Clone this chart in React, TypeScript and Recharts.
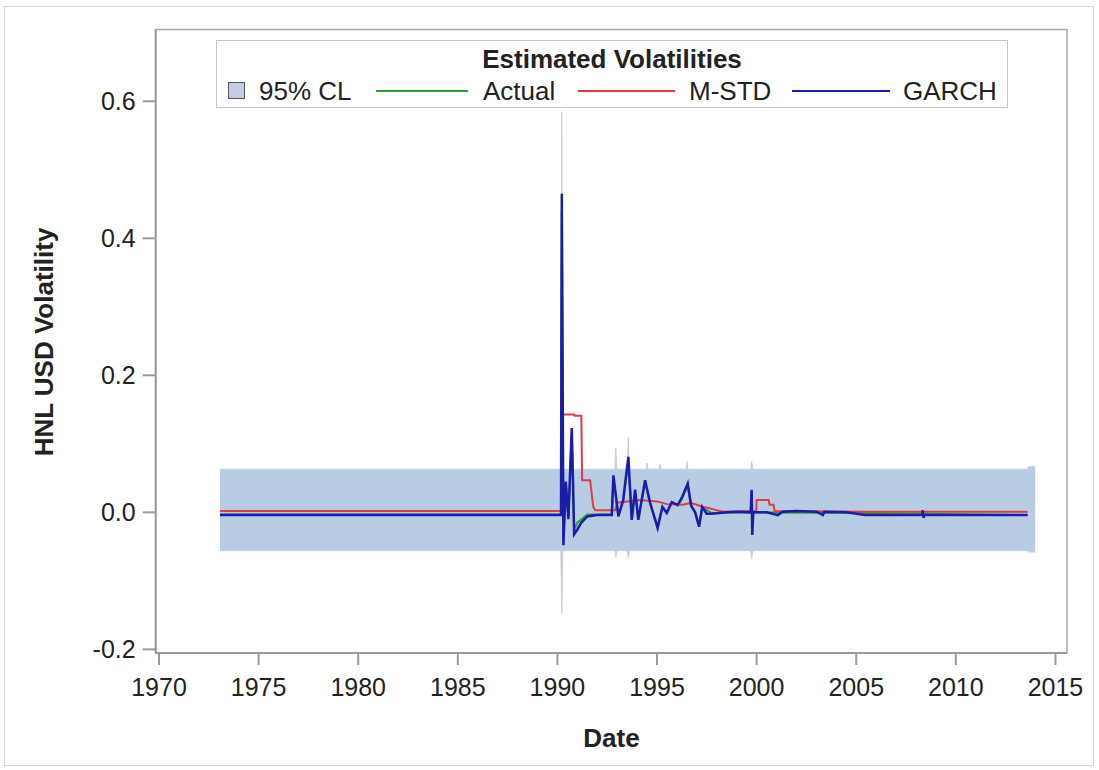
import React from "react";
import {
  Area,
  ComposedChart,
  Legend,
  Line,
  ReferenceArea,
  XAxis,
  YAxis,
} from "recharts";

const FONT = '"Liberation Sans", Arial, sans-serif';

// axis ticks
const xTicks = [1970, 1975, 1980, 1985, 1990, 1995, 2000, 2005, 2010, 2015];
const yTicks = [-0.2, 0, 0.2, 0.4, 0.6];
const X_MIN = 1969.834;
const X_MAX = 2015.58;
const Y_MIN = -0.2053;
const Y_MAX = 0.7048;

// 95% confidence band
const clYears = [
  1973.06, 1990.17, 1990.22, 1990.27, 1992.88, 1992.93, 1992.98, 1993.51, 1993.56,
  1993.61, 1994.45, 1994.5, 1994.55, 1995.1, 1995.15, 1995.2, 1996.45, 1996.5,
  1996.55, 1999.7, 1999.75, 1999.8, 2013.6, 2013.64, 2013.98,
];
const clUpper = [
  0.063, 0.063, 0.585, 0.063, 0.063, 0.094, 0.063, 0.063, 0.11, 0.063, 0.063, 0.072,
  0.063, 0.063, 0.07, 0.063, 0.063, 0.075, 0.063, 0.063, 0.075, 0.063, 0.063, 0.067,
  0.067,
];
const clLower = [
  -0.056, -0.056, -0.148, -0.056, -0.056, -0.066, -0.056, -0.056, -0.067, -0.056,
  -0.056, -0.056, -0.056, -0.056, -0.056, -0.056, -0.056, -0.056, -0.056, -0.056,
  -0.068, -0.056, -0.056, -0.058, -0.058,
];

// Actual volatility (mostly hidden under GARCH)
const actualYears = [
  1973.06, 1990.18, 1990.22, 1990.3, 1990.42, 1990.55, 1990.72, 1990.84, 1991.0,
  1991.5, 1992.73, 1992.81, 1993.06, 1993.3, 1993.56, 1993.73, 1993.9, 1994.06, 1994.4,
  1994.65, 1995.03, 1995.27, 1995.49, 1995.74, 1996.04, 1996.24, 1996.54, 1996.71,
  1996.91, 1997.11, 1997.27, 1997.75, 1999.7, 1999.75, 1999.78, 1999.83, 2005.44,
  2013.6,
];
const actualVals = [
  -0.003, -0.003, 0.44, -0.04, 0.04, -0.008, 0.115, -0.025, -0.015, -0.003, -0.003,
  0.05, -0.004, 0.016, 0.075, -0.009, 0.03, -0.009, 0.043, 0.013, -0.02, 0.007, 0.0,
  0.014, 0.01, 0.019, 0.039, 0.009, 0.001, -0.018, 0.007, -0.001, 0.0, 0.03, -0.03, 0.0,
  -0.001, -0.004,
];

// moving standard deviation
const mstdYears = [
  1973.06, 1990.18, 1990.21, 1990.84, 1990.86, 1991.2, 1991.24, 1991.64, 1991.8,
  1991.9, 1992.9, 1993.0, 1993.5, 1994.1, 1995.0, 1995.5, 1996.3, 1996.7, 1997.2,
  1997.9, 1998.3, 1999.98, 2000.0, 2000.6, 2000.65, 2000.85, 2000.9, 2005.4, 2013.6,
];
const mstdVals = [
  0.002, 0.002, 0.143, 0.143, 0.141, 0.141, 0.047, 0.047, 0.008, 0.003, 0.003, 0.014,
  0.016, 0.018, 0.016, 0.012, 0.011, 0.014, 0.009, 0.004, 0.001, 0.002, 0.018, 0.018,
  0.011, 0.011, 0.002, 0.001, 0.001,
];

// GARCH volatility
const garchYears = [
  1973.06, 1990.18, 1990.22, 1990.3, 1990.42, 1990.55, 1990.72, 1990.84, 1991.0,
  1991.2, 1991.5, 1992.0, 1992.73, 1992.81, 1993.06, 1993.3, 1993.56, 1993.73, 1993.9,
  1994.06, 1994.4, 1994.65, 1995.03, 1995.27, 1995.49, 1995.74, 1996.04, 1996.24,
  1996.54, 1996.71, 1996.91, 1997.11, 1997.27, 1997.49, 1997.75, 1998.5, 1999.0,
  1999.7, 1999.75, 1999.78, 1999.83, 2000.5, 2001.07, 2001.3, 2002.0, 2003.0, 2003.33,
  2003.4, 2004.5, 2005.44, 2008.3, 2008.34, 2008.38, 2008.42, 2013.6,
];
const garchVals = [
  -0.004, -0.004, 0.465, -0.048, 0.045, -0.01, 0.123, -0.032, -0.025, -0.015, -0.006,
  -0.004, -0.004, 0.054, -0.006, 0.018, 0.081, -0.011, 0.033, -0.011, 0.047, 0.014,
  -0.023, 0.008, -0.001, 0.015, 0.011, 0.021, 0.042, 0.01, 0.0, -0.021, 0.008, -0.002,
  -0.002, 0.0, 0.001, 0.0, 0.033, -0.033, 0.0, 0.0, -0.004, 0.001, 0.002, 0.001,
  -0.004, 0.001, 0.0, -0.004, -0.004, 0.003, -0.008, -0.004, -0.004,
];

const BAND = "#B8CCE4";
const GREEN = "#2ca02c";
const RED = "#dc3c46";
const BLUE = "#1c1caa";

const clData = clYears.map((x, i) => ({ x, cl: [clLower[i], clUpper[i]] }));
const toRows = (xs: number[], vs: number[]) => xs.map((x, i) => ({ x, v: vs[i] }));
const actualData = toRows(actualYears, actualVals);
const mstdData = toRows(mstdYears, mstdVals);
const garchData = toRows(garchYears, garchVals);

const legendItems = [
  { label: "Actual", color: GREEN, x1: 160, x2: 252, tx: 267 },
  { label: "M-STD", color: RED, x1: 362, x2: 459, tx: 473 },
  { label: "GARCH", color: BLUE, x1: 576, x2: 674, tx: 687 },
];

function VolLegend() {
  return (
    <svg width={792} height={68} style={{ display: "block" }}>
      <rect x={0.5} y={0.5} width={791} height={67} fill="#fff" stroke="#c8c8c8" />
      <text
        x={396}
        y={19}
        textAnchor="middle"
        dominantBaseline="central"
        fontSize={26}
        fontWeight="bold"
        fill="#222"
        fontFamily={FONT}
      >
        Estimated Volatilities
      </text>
      <rect x={12.5} y={42.5} width={16} height={16} fill="#c3cbe6" stroke="#555" />
      <text x={43} y={51} dominantBaseline="central" fontSize={26} fill="#222" fontFamily={FONT}>
        95% CL
      </text>
      {legendItems.map((it) => (
        <g key={it.label}>
          <line x1={it.x1} x2={it.x2} y1={51} y2={51} stroke={it.color} strokeWidth={2} />
          <text
            x={it.tx}
            y={51}
            dominantBaseline="central"
            fontSize={26}
            fill="#222"
            fontFamily={FONT}
          >
            {it.label}
          </text>
        </g>
      ))}
    </svg>
  );
}

export default function App() {
  return (
    <div style={{ position: "relative", width: 1099, height: 770, background: "#fff" }}>
      <style>{"body{margin:0}"}</style>
      <div
        style={{
          position: "absolute",
          left: 4,
          top: 6,
          width: 1090,
          height: 760,
          border: "1px solid #d4d4d4",
          boxSizing: "border-box",
        }}
      />
      <ComposedChart
        width={1099}
        height={770}
        margin={{ top: 29.5, right: 32, bottom: 57, left: 95.7 }}
        style={{ fontFamily: FONT }}
      >
        <XAxis
          type="number"
          dataKey="x"
          domain={[X_MIN, X_MAX]}
          ticks={xTicks}
          allowDataOverflow
          height={60}
          tickSize={12}
          tickMargin={13}
          stroke="#9a9a9a"
          strokeWidth={2}
          tick={{ fontSize: 25, fill: "#222", fontFamily: FONT }}
          label={{
            content: () => (
              <text
                x={611.5}
                y={738}
                textAnchor="middle"
                dominantBaseline="central"
                fontSize={26}
                fontWeight="bold"
                fill="#222"
                fontFamily={FONT}
              >
                Date
              </text>
            ),
          }}
        />
        <YAxis
          type="number"
          domain={[Y_MIN, Y_MAX]}
          ticks={yTicks}
          allowDataOverflow
          width={60}
          tickSize={13}
          tickMargin={7}
          stroke="#9a9a9a"
          strokeWidth={2}
          tickFormatter={(v: number) => v.toFixed(1)}
          tick={{ fontSize: 25, fill: "#222", fontFamily: FONT }}
          label={{
            content: () => (
              <text
                x={44}
                y={342}
                transform="rotate(-90 44 342)"
                textAnchor="middle"
                dominantBaseline="central"
                fontSize={26}
                fontWeight="bold"
                fill="#222"
                fontFamily={FONT}
              >
                HNL USD Volatility
              </text>
            ),
          }}
        />
        <ReferenceArea
          x1={X_MIN}
          x2={X_MAX}
          y1={Y_MIN}
          y2={Y_MAX}
          fill="none"
          stroke="#a8a8a8"
          strokeWidth={1.5}
          ifOverflow="visible"
        />
        <Area
          data={clData}
          dataKey="cl"
          type="linear"
          fill={BAND}
          fillOpacity={1}
          stroke="#c9d1dc"
          strokeWidth={1}
          isAnimationActive={false}
          activeDot={false}
        />
        <Line
          data={actualData}
          dataKey="v"
          type="linear"
          stroke={GREEN}
          strokeWidth={2}
          dot={false}
          activeDot={false}
          isAnimationActive={false}
        />
        <Line
          data={mstdData}
          dataKey="v"
          type="linear"
          stroke={RED}
          strokeWidth={2}
          dot={false}
          activeDot={false}
          isAnimationActive={false}
        />
        <Line
          data={garchData}
          dataKey="v"
          type="linear"
          stroke={BLUE}
          strokeWidth={2.5}
          dot={false}
          activeDot={false}
          isAnimationActive={false}
        />
        <Legend
          layout="horizontal"
          verticalAlign="middle"
          align="center"
          content={() => <VolLegend />}
          wrapperStyle={{ position: "absolute", left: 216, top: 40, width: 792, height: 68 }}
        />
      </ComposedChart>
    </div>
  );
}
